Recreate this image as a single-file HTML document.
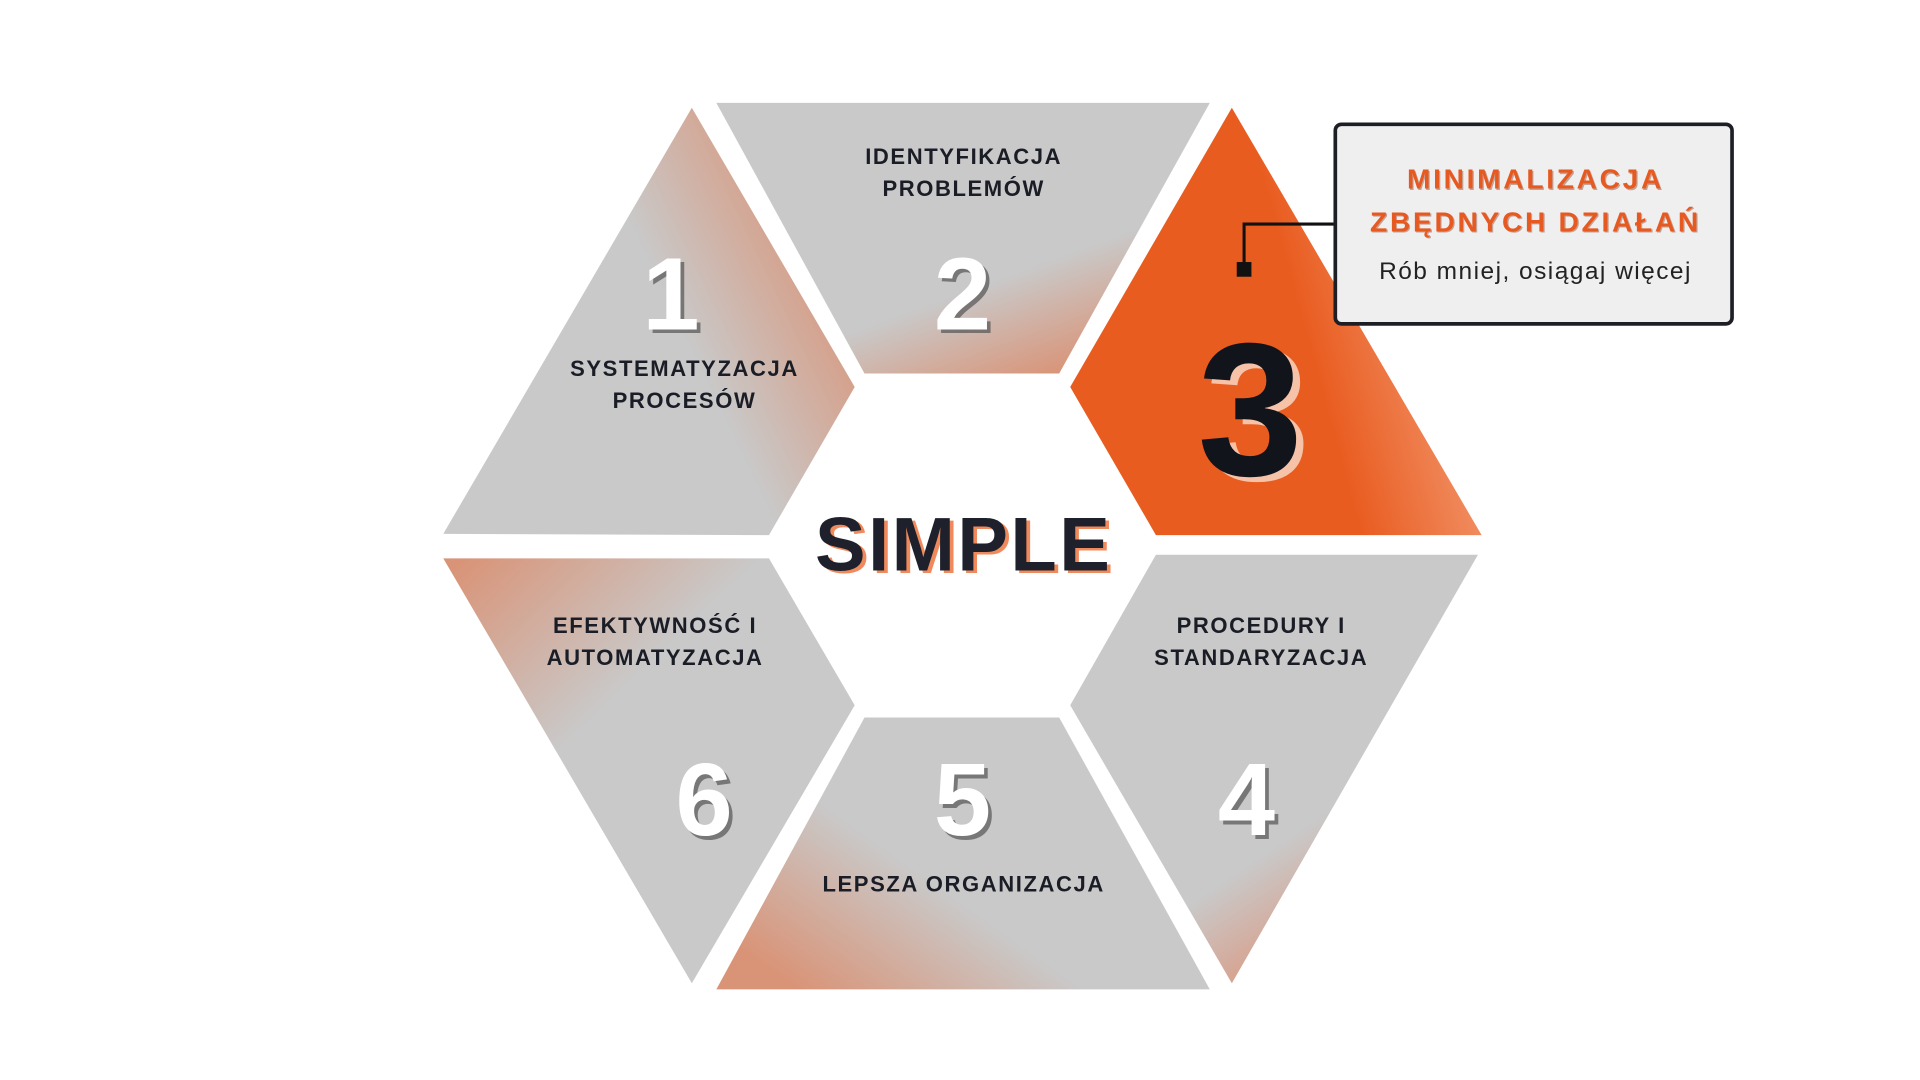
<!DOCTYPE html>
<html><head><meta charset="utf-8"><style>
html,body{margin:0;padding:0;background:#fff;width:1920px;height:1080px;overflow:hidden}
svg{display:block}
text{font-family:"Liberation Sans",sans-serif;font-weight:bold}
</style></head><body>
<svg width="1920" height="1080" viewBox="0 0 1568 882" xmlns="http://www.w3.org/2000/svg">
<defs>
<linearGradient id="g1" x1="0.2" y1="0.55" x2="0.9" y2="0.2"><stop offset="0.45" stop-color="#c9c9c9"/><stop offset="1" stop-color="#d99478"/></linearGradient>
<linearGradient id="g2" x1="0.45" y1="0.3" x2="0.85" y2="0.9"><stop offset="0.5" stop-color="#c9c9c9"/><stop offset="1" stop-color="#d99478"/></linearGradient>
<linearGradient id="g3" x1="0.3" y1="0.5" x2="1" y2="0.3"><stop offset="0.35" stop-color="#e95c20"/><stop offset="1" stop-color="#f5ab88"/></linearGradient>
<linearGradient id="g4" x1="0.4" y1="0.4" x2="0.75" y2="0.95"><stop offset="0.45" stop-color="#c9c9c9"/><stop offset="1" stop-color="#e0896a"/></linearGradient>
<linearGradient id="g5" x1="0.5" y1="0.5" x2="0.05" y2="0.85"><stop offset="0.2" stop-color="#c9c9c9"/><stop offset="1" stop-color="#d99478"/></linearGradient>
<linearGradient id="g6" x1="0.6" y1="0.6" x2="0.05" y2="0"><stop offset="0.4" stop-color="#c9c9c9"/><stop offset="1" stop-color="#d99478"/></linearGradient>
</defs>
<polygon points="565,88 698,316 628,437 362,436" fill="url(#g1)"/>
<polygon points="585,84 988,84 865,305 706,305" fill="url(#g2)"/>
<polygon points="1006,88 1210,437 944,437 874,316" fill="url(#g3)"/>
<polygon points="1207,453 1006,803 874,576 944,453" fill="url(#g4)"/>
<polygon points="706,586 865,586 988,808 585,808" fill="url(#g5)"/>
<polygon points="362,456 628,456 698,576 565,803" fill="url(#g6)"/>

<g font-size="18" fill="#1b1d26" text-anchor="middle" letter-spacing="1.3">
<text x="787" y="134">IDENTYFIKACJA</text><text x="787" y="160">PROBLEMÓW</text>
<text x="559" y="307">SYSTEMATYZACJA</text><text x="559" y="333">PROCESÓW</text>
<text x="535" y="517">EFEKTYWNOŚĆ I</text><text x="535" y="543">AUTOMATYZACJA</text>
<text x="1030" y="517">PROCEDURY I</text><text x="1030" y="543">STANDARYZACJA</text>
<text x="787" y="728">LEPSZA ORGANIZACJA</text>
</g>
<g font-size="84" text-anchor="middle">
<g fill="#555" opacity="0.7">
<text x="551" y="272">1</text><text x="789" y="272">2</text><text x="1021" y="685">4</text><text x="789" y="685">5</text><text x="578" y="685">6</text>
</g>
<g fill="#fff">
<text x="548" y="269">1</text><text x="786" y="269">2</text><text x="1018" y="682">4</text><text x="786" y="682">5</text><text x="575" y="682">6</text>
</g>
</g>
<text x="1027" y="392" font-size="155" text-anchor="middle" fill="#f6c3a8">3</text>
<text x="1021" y="388" font-size="155" text-anchor="middle" fill="#12141c">3</text>
<text x="790" y="468" font-size="62" text-anchor="middle" fill="#f08a5d" letter-spacing="2">SIMPLE</text>
<text x="787" y="466" font-size="62" text-anchor="middle" fill="#1e212b" letter-spacing="2">SIMPLE</text>

<polyline points="1090,183 1016,183 1016,220" fill="none" stroke="#111" stroke-width="2.5"/>
<rect x="1010" y="214" width="12" height="12" fill="#111"/>
<rect x="1090.5" y="101.5" width="324" height="163" rx="5" fill="#efefef" stroke="#1d1f24" stroke-width="3"/>
<g font-size="23" text-anchor="middle" letter-spacing="2.2">
<text x="1255" y="155" fill="#9a5a40" opacity="0.5">MINIMALIZACJA</text>
<text x="1255" y="190" fill="#9a5a40" opacity="0.5">ZBĘDNYCH DZIAŁAŃ</text>
<text x="1254" y="154" fill="#e65a22">MINIMALIZACJA</text>
<text x="1254" y="189" fill="#e65a22">ZBĘDNYCH DZIAŁAŃ</text>
</g>
<text x="1254" y="228" font-size="20" style="font-weight:normal" letter-spacing="1.2" text-anchor="middle" fill="#222">Rób mniej, osiągaj więcej</text>
</svg>
</body></html>
